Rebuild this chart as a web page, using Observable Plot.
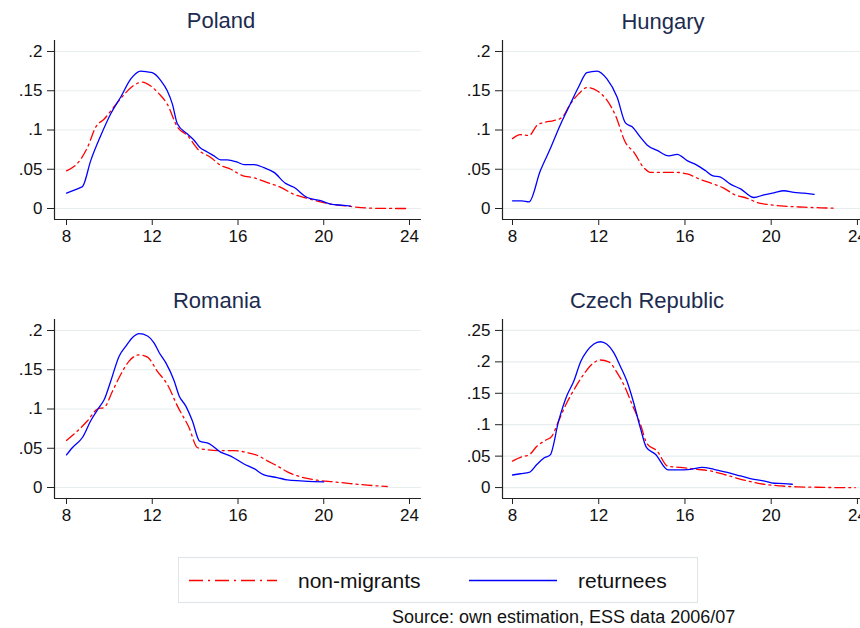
<!DOCTYPE html>
<html>
<head>
<meta charset="utf-8">
<script src="https://cdn.jsdelivr.net/npm/d3@7"></script>
<script src="https://cdn.jsdelivr.net/npm/@observablehq/plot@0.6"></script>
<style>
  html, body { margin: 0; padding: 0; background: #fff; }
  #root { position: relative; width: 860px; height: 628px; overflow: hidden; background: #fff;
          font-family: "Liberation Sans", Arial, sans-serif; }
  .panel { position: absolute; }
  #overlay { position: absolute; left: 0; top: 0; pointer-events: none; }
</style>
</head>
<body>
<div id="root"></div>
<script>
// ---------- data (years of education vs density) ----------
const xTicks = [8, 12, 16, 20, 24];
const yTicksA = [0, 0.05, 0.1, 0.15, 0.2];
const yLabelsA = ["0", ".05", ".1", ".15", ".2"];
const yTicksB = [0, 0.05, 0.1, 0.15, 0.2, 0.25];
const yLabelsB = ["0", ".05", ".1", ".15", ".2", ".25"];
const seriesNames = ["non-migrants", "returnees"];
const countries = ["Poland", "Hungary", "Romania", "Czech Republic"];

const polandReturnees = [[8,.0196],[8.67,.027],[8.75,.028],[9.13,.061],[9.6,.093],[10.07,.121],[10.53,.142],[11.0,.165],[11.46,.175],[11.78,.174],[12.0,.173],[12.4,.163],[12.7,.150],[12.94,.133],[13.17,.108],[13.64,.095],[13.95,.087],[14.21,.078],[14.57,.072],[14.88,.067],[15.19,.062],[15.5,.062],[15.97,.059],[16.28,.056],[16.75,.056],[17.21,.052],[17.68,.046],[18.22,.032],[18.61,.027],[19.23,.014],[19.85,.010],[20.32,.0055],[20.94,.004],[21.25,.003]];
const polandNonMigrants = [[8,.048],[8.67,.063],[8.98,.078],[9.37,.104],[9.76,.114],[10.2,.129],[10.68,.145],[11.15,.157],[11.54,.161],[11.93,.156],[12.32,.146],[12.7,.133],[13.17,.104],[13.64,.093],[14.18,.074],[14.73,.065],[15.19,.055],[15.66,.050],[16.2,.042],[16.75,.039],[17.37,.033],[17.99,.027],[18.61,.018],[19.23,.013],[20.16,.0064],[21.25,.0026],[22.03,.0006],[22.8,.0001],[23.9,0]];

const hungaryReturnees = [[8,.0098],[8.43,.0098],[8.77,.0085],[9.29,.048],[9.75,.076],[10.21,.106],[10.68,.133],[11.07,.155],[11.45,.173],[11.92,.175],[12.38,.165],[12.85,.142],[13.24,.109],[13.55,.104],[13.93,.091],[14.24,.081],[14.71,.074],[15.25,.067],[15.64,.069],[16.1,.061],[16.57,.055],[16.96,.048],[17.27,.042],[17.65,.040],[18.11,.031],[18.58,.025],[19.2,.014],[19.66,.0175],[20.13,.020],[20.59,.0226],[21.06,.0205],[21.52,.0196],[21.99,.018]];
const hungaryNonMigrants = [[8,.089],[8.36,.094],[8.77,.093],[9.14,.106],[9.52,.110],[9.91,.112],[10.3,.116],[10.68,.133],[11.07,.146],[11.45,.154],[11.92,.150],[12.38,.138],[12.77,.119],[13.24,.084],[13.62,.072],[14.09,.052],[14.4,.046],[15.02,.046],[15.64,.046],[16.1,.044],[16.72,.037],[17.34,.031],[17.8,.026],[18.27,.018],[18.89,.013],[19.35,.0077],[19.97,.0047],[20.59,.003],[21.52,.0017],[22.3,.0009],[23.0,.0004]];

const romaniaReturnees = [[8,.0415],[8.28,.051],[8.75,.064],[9.13,.085],[9.52,.102],[9.76,.112],[10.07,.136],[10.45,.167],[10.77,.180],[11.08,.191],[11.39,.196],[11.78,.193],[12.09,.184],[12.32,.172],[12.63,.159],[13.02,.136],[13.25,.117],[13.56,.104],[13.87,.085],[14.21,.059],[14.65,.056],[15.19,.045],[15.66,.040],[16.28,.030],[16.75,.024],[17.21,.016],[17.83,.0127],[18.3,.0097],[18.92,.0085],[19.54,.0076],[20.0,.0072]];
const romaniaNonMigrants = [[8,.060],[8.51,.072],[8.98,.085],[9.45,.100],[9.76,.102],[10.15,.123],[10.53,.144],[10.92,.161],[11.39,.169],[11.78,.166],[12.24,.148],[12.71,.131],[13.17,.104],[13.72,.076],[14.1,.051],[14.57,.048],[15.19,.047],[15.81,.047],[16.43,.0445],[16.98,.040],[17.37,.034],[17.83,.0275],[18.3,.020],[18.92,.0136],[19.7,.0093],[20.47,.0072],[21.25,.005],[22.03,.003],[22.96,.0013]];

const czechReturnees = [[8,.020],[8.36,.022],[8.77,.024],[9.14,.037],[9.46,.047],[9.75,.052],[10.14,.106],[10.52,.146],[10.84,.169],[11.17,.201],[11.45,.217],[11.76,.228],[12.07,.232],[12.38,.228],[12.69,.215],[13.0,.193],[13.31,.169],[13.62,.135],[13.93,.095],[14.21,.064],[14.63,.053],[15.22,.028],[15.64,.028],[16.26,.029],[16.8,.032],[17.34,.029],[17.96,.024],[18.58,.0185],[19.2,.013],[19.66,.0106],[20.13,.0069],[20.59,.0064],[20.98,.0053]];
const czechNonMigrants = [[8,.042],[8.43,.049],[8.77,.052],[9.14,.066],[9.52,.075],[9.83,.082],[10.14,.106],[10.52,.135],[10.91,.159],[11.3,.180],[11.68,.196],[12.07,.203],[12.46,.200],[12.85,.183],[13.16,.164],[13.55,.132],[13.93,.101],[14.24,.070],[14.71,.058],[15.2,.034],[15.79,.032],[16.57,.029],[17.19,.0265],[17.8,.021],[18.43,.0148],[19.04,.0095],[19.66,.0053],[20.44,.0026],[21.21,.0011],[22.14,.0005],[23.07,0],[23.9,0]];

// ---------- layout ----------
const FONT = "'Liberation Sans', Arial, sans-serif";
const RED = "#ff0000", BLUE = "#0000ff";
const panels = [
  {title: countries[0], left: 0,   top: 0,   width: 430, mL: 54, mR: 9, xDomain: [7.44, 24.56],  yDomain: [-0.014, 0.214],  yTicks: yTicksA, yLabels: yLabelsA, non: polandNonMigrants,  ret: polandReturnees,  tx: 221, ty: 28},
  {title: countries[1], left: 430, top: 0,   width: 440, mL: 72, mR: 1, xDomain: [7.536, 24.56], yDomain: [-0.014, 0.214],  yTicks: yTicksA, yLabels: yLabelsA, non: hungaryNonMigrants, ret: hungaryReturnees, tx: 663, ty: 29},
  {title: countries[2], left: 0,   top: 279, width: 430, mL: 54, mR: 9, xDomain: [7.44, 24.56],  yDomain: [-0.014, 0.214],  yTicks: yTicksA, yLabels: yLabelsA, non: romaniaNonMigrants, ret: romaniaReturnees, tx: 217, ty: 308},
  {title: countries[3], left: 430, top: 279, width: 440, mL: 72, mR: 1, xDomain: [7.536, 24.56], yDomain: [-0.0174, 0.2674], yTicks: yTicksB, yLabels: yLabelsB, non: czechNonMigrants,   ret: czechReturnees,   tx: 647, ty: 308}
];

const root = document.getElementById("root");

for (const p of panels) {
  const chart = Plot.plot({
    width: p.width,
    height: 250,
    marginLeft: p.mL,
    marginRight: p.mR,
    marginTop: 40,
    marginBottom: 31,
    style: {fontFamily: FONT, fontSize: "17px", color: "#111", background: "transparent", overflow: "visible"},
    x: {domain: p.xDomain, label: null},
    y: {domain: p.yDomain, label: null},
    marks: [
      Plot.ruleY(p.yTicks, {stroke: "#e6eef0", strokeWidth: 1.2}),
      Plot.line(p.non, {x: d => d[0], y: d => d[1], stroke: RED, strokeWidth: 1.3, strokeDasharray: "10,4,2,4", curve: "monotone-x"}),
      Plot.line(p.ret, {x: d => d[0], y: d => d[1], stroke: BLUE, strokeWidth: 1.3, curve: "monotone-x"}),
      Plot.ruleX([p.xDomain[0]], {stroke: "#222", strokeWidth: 1.2}),
      Plot.ruleY([p.yDomain[0]], {stroke: "#222", strokeWidth: 1.2}),
      Plot.axisX({ticks: xTicks, tickSize: 6, tickPadding: 4, fontSize: 17, stroke: "#222", label: null}),
      Plot.axisY({ticks: p.yTicks, tickSize: 7, tickPadding: 5, fontSize: 17, stroke: "#222", label: null,
                  tickFormat: d => p.yLabels[p.yTicks.indexOf(d)]})
    ]
  });
  chart.classList.add("panel");
  chart.style.left = p.left + "px";
  chart.style.top = p.top + "px";
  root.appendChild(chart);
}

// ---------- titles, legend, source ----------
const NS = "http://www.w3.org/2000/svg";
const ov = document.createElementNS(NS, "svg");
ov.setAttribute("id", "overlay");
ov.setAttribute("width", 860);
ov.setAttribute("height", 628);
root.appendChild(ov);
function el(tag, attrs, text) {
  const e = document.createElementNS(NS, tag);
  for (const k in attrs) e.setAttribute(k, attrs[k]);
  if (text != null) e.textContent = text;
  ov.appendChild(e);
  return e;
}
for (const p of panels) {
  el("text", {x: p.tx, y: p.ty, "text-anchor": "middle", "font-family": FONT, "font-size": 22, fill: "#1c2b4f"}, p.title);
}
el("rect", {x: 178.5, y: 557.5, width: 519, height: 45, fill: "#fff", stroke: "#dde5e8", "stroke-width": 1});
el("line", {x1: 189, x2: 277, y1: 580.5, y2: 580.5, stroke: RED, "stroke-width": 1.6, "stroke-dasharray": "14,5,2,5"});
el("text", {x: 298, y: 588, "font-family": FONT, "font-size": 21, fill: "#111"}, seriesNames[0]);
el("line", {x1: 469, x2: 557, y1: 580.5, y2: 580.5, stroke: BLUE, "stroke-width": 1.6});
el("text", {x: 578, y: 588, "font-family": FONT, "font-size": 21, fill: "#111"}, seriesNames[1]);
el("text", {x: 392, y: 623, "font-family": FONT, "font-size": 18, fill: "#111"}, "Source: own estimation, ESS data 2006/07");
</script>
</body>
</html>
